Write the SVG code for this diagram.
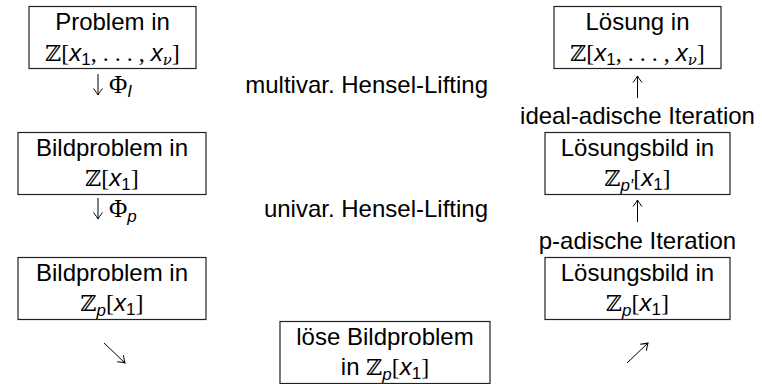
<svg xmlns="http://www.w3.org/2000/svg" width="762" height="384" viewBox="0 0 762 384">
<style>
  .box { fill: #fff; stroke: #222; stroke-width: 1.2; }
  .t { font-family: "Liberation Sans", Arial, sans-serif; font-size: 24px; fill: #000; text-anchor: middle; }
  .ts { font-family: "Liberation Sans", Arial, sans-serif; font-size: 24px; fill: #000; }
  .end { text-anchor: end; }
  .bb { font-family: "DejaVu Serif", serif; font-size: 22px; }
  .rm { font-family: "Liberation Serif", "Times New Roman", serif; }
  .phi { font-family: "Liberation Serif", "Times New Roman", serif; font-size: 25px; }
  .it { font-family: "Liberation Sans", Arial, sans-serif; font-style: italic; }
  .sub { font-size: 17px; }
  .nu { font-family: "DejaVu Serif", serif; font-style: italic; font-size: 15px; }
  .arr { stroke: #000; stroke-width: 1; fill: none; marker-end: url(#head); }
</style>
<defs>
  <marker id="head" viewBox="-8 -6 10 12" refX="0" refY="0" markerWidth="10" markerHeight="12" markerUnits="userSpaceOnUse" orient="auto">
    <path d="M-6.5,-4.5 Q-2,-1 0,0 Q-2,1 -6.5,4.5" fill="none" stroke="#000" stroke-width="1"/>
  </marker>
</defs>

<g id="n-problem">
  <rect class="box" x="29" y="6.5" width="167" height="62"/>
  <text class="t" x="112.5" y="30">Problem in</text>
  <text class="t" x="112.5" y="61"><tspan class="bb">ℤ</tspan><tspan class="rm">[</tspan><tspan class="it">x</tspan><tspan class="sub" dy="4">1</tspan><tspan class="rm" dy="-4">, . . . , </tspan><tspan class="it">x</tspan><tspan class="nu" dy="4">ν</tspan><tspan class="rm" dy="-4">]</tspan></text>
</g>

<g id="n-bild-z">
  <rect class="box" x="18" y="132.5" width="188" height="62"/>
  <text class="t" x="112" y="156">Bildproblem in</text>
  <text class="t" x="112" y="186"><tspan class="bb">ℤ</tspan><tspan class="rm">[</tspan><tspan class="it">x</tspan><tspan class="sub" dy="4">1</tspan><tspan class="rm" dy="-4">]</tspan></text>
</g>

<g id="n-bild-zp">
  <rect class="box" x="18" y="257.5" width="188" height="62"/>
  <text class="t" x="112" y="281">Bildproblem in</text>
  <text class="t" x="112" y="311"><tspan class="bb">ℤ</tspan><tspan class="it sub" dy="5">p</tspan><tspan class="rm" dy="-5">[</tspan><tspan class="it">x</tspan><tspan class="sub" dy="4">1</tspan><tspan class="rm" dy="-4">]</tspan></text>
</g>

<g id="n-loese">
  <rect class="box" x="280" y="321.5" width="210" height="62"/>
  <text class="t" x="385" y="345">löse Bildproblem</text>
  <text class="t" x="385" y="375">in <tspan class="bb">ℤ</tspan><tspan class="it sub" dy="5">p</tspan><tspan class="rm" dy="-5">[</tspan><tspan class="it">x</tspan><tspan class="sub" dy="4">1</tspan><tspan class="rm" dy="-4">]</tspan></text>
</g>

<g id="n-loesbild-zp">
  <rect class="box" x="545" y="257.5" width="185" height="62"/>
  <text class="t" x="637.5" y="281">Lösungsbild in</text>
  <text class="t" x="637.5" y="311"><tspan class="bb">ℤ</tspan><tspan class="it sub" dy="5">p</tspan><tspan class="rm" dy="-5">[</tspan><tspan class="it">x</tspan><tspan class="sub" dy="4">1</tspan><tspan class="rm" dy="-4">]</tspan></text>
</g>

<g id="n-loesbild-zpi">
  <rect class="box" x="545" y="132.5" width="185" height="62"/>
  <text class="t" x="637.5" y="156">Lösungsbild in</text>
  <text class="t" x="637.5" y="186"><tspan class="bb">ℤ</tspan><tspan class="it sub" dy="5">p′</tspan><tspan class="rm" dy="-5">[</tspan><tspan class="it">x</tspan><tspan class="sub" dy="4">1</tspan><tspan class="rm" dy="-4">]</tspan></text>
</g>

<g id="n-loesung">
  <rect class="box" x="554" y="6.5" width="167" height="62"/>
  <text class="t" x="637.5" y="30">Lösung in</text>
  <text class="t" x="637.5" y="61"><tspan class="bb">ℤ</tspan><tspan class="rm">[</tspan><tspan class="it">x</tspan><tspan class="sub" dy="4">1</tspan><tspan class="rm" dy="-4">, . . . , </tspan><tspan class="it">x</tspan><tspan class="nu" dy="4">ν</tspan><tspan class="rm" dy="-4">]</tspan></text>
</g>

<g id="connectors">
  <path class="arr" d="M98,74 V95"/>
  <text class="ts" x="109" y="93"><tspan class="phi">Φ</tspan><tspan class="it sub" dy="4">I</tspan></text>
  <path class="arr" d="M98,198 V219"/>
  <text class="ts" x="109" y="217"><tspan class="phi">Φ</tspan><tspan class="it sub" dy="5">p</tspan></text>
  <path class="arr" d="M104,343 L125,363"/>
  <path class="arr" d="M627,363 L648,343"/>
  <path class="arr" d="M637.5,98 V76"/>
  <text class="t" x="637.5" y="124">ideal-adische Iteration</text>
  <path class="arr" d="M637.5,222 V200"/>
  <text class="t" x="637.5" y="249">p-adische Iteration</text>
</g>

<g id="labels">
  <text class="ts end" x="488" y="93">multivar. Hensel-Lifting</text>
  <text class="ts end" x="488" y="217">univar. Hensel-Lifting</text>
</g>
</svg>
